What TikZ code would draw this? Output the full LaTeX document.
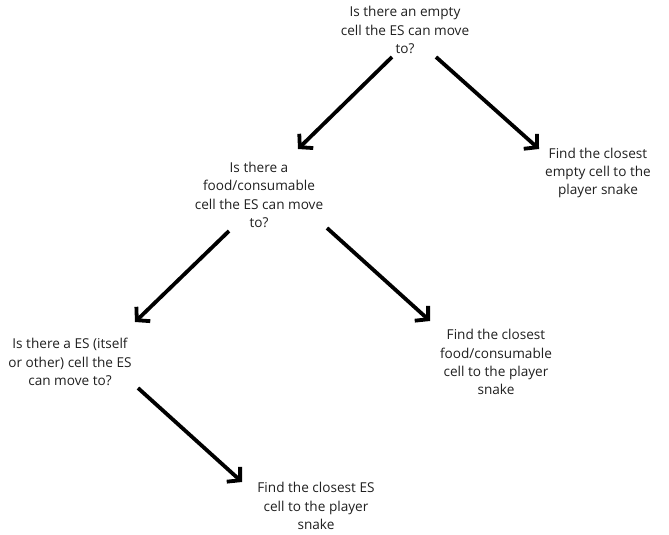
\documentclass[tikz,border=0pt]{standalone}
\usepackage{fontspec}
\setmainfont{Open Sans}
\usetikzlibrary{arrows.meta}
\begin{document}
\begin{tikzpicture}[x=1pt,y=-1pt,
  txt/.style={align=center,inner sep=0pt,font=\fontsize{13.6}{18.2}\selectfont,text=black!88},
  arr/.style={line width=3.8pt,-{Straight Barb[length=9pt,width=20pt,line width=3.8pt]}}]
\useasboundingbox (0,0) rectangle (669,535);
\node[txt] (q1) at (405,30) {Is there an empty\\cell the ES can move\\to?};
\node[txt] (r1) at (598,173) {Find the closest\\empty cell to the\\player snake};
\node[txt] (q2) at (259,195) {Is there a\\food/consumable\\cell the ES can move\\to?};
\node[txt] (r2) at (496,362) {Find the closest\\food/consumable\\cell to the player\\snake};
\node[txt] (q3) at (70,362) {Is there a ES (itself\\or other) cell the ES\\can move to?};
\node[txt] (r3) at (316,506) {Find the closest ES\\cell to the player\\snake};
\coordinate (q1l) at (392,57);
\coordinate (q2t) at (298,149);
\coordinate (q1r) at (436,57);
\coordinate (r1t) at (539,149);
\coordinate (q2l) at (229,231);
\coordinate (q3t) at (135,322);
\coordinate (q2r) at (327,228);
\coordinate (r2t) at (430,321);
\coordinate (q3b) at (138,388);
\coordinate (r3t) at (242,482);
\draw[arr] (q1l) -- (q2t);
\draw[arr] (q1r) -- (r1t);
\draw[arr] (q2l) -- (q3t);
\draw[arr] (q2r) -- (r2t);
\draw[arr] (q3b) -- (r3t);
\end{tikzpicture}
\end{document}
